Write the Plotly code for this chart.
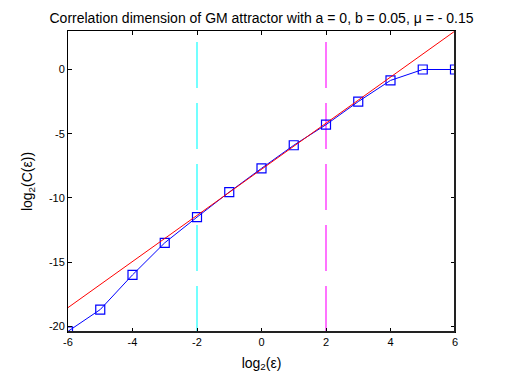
import plotly.graph_objects as go

# log2(epsilon) values and corresponding log2(C(epsilon))
log_eps = [-6, -5, -4, -3, -2, -1, 0, 1, 2, 3, 4, 5, 6]
log_c = [-20.4, -18.7, -16.0, -13.5, -11.5, -9.55, -7.7, -5.9, -4.3, -2.5, -0.85, 0.0, 0.0]

# linear fit over the scaling region
fit_x = [-6, 6]
fit_y = [-18.55, 3.0]

# scaling region boundaries
region_x = [-2, 2]
region_colors = ["#00ffff", "#ff00ff"]
region_y = [-20.45, 2.3]

x_ticks = [-6, -4, -2, 0, 2, 4, 6]
y_ticks = [-20, -15, -10, -5, 0]

fig = go.Figure()

for xv, col in zip(region_x, region_colors):
    fig.add_trace(go.Scatter(
        x=[xv, xv], y=region_y, mode="lines",
        line=dict(color=col, width=1.1, dash="46px,15px"),
        hoverinfo="skip", showlegend=False))

fig.add_trace(go.Scatter(
    x=log_eps, y=log_c, mode="lines+markers",
    line=dict(color="#0000ff", width=1),
    marker=dict(symbol="square-open", size=9, color="#0000ff", line=dict(width=1.2)),
    showlegend=False))

fig.add_trace(go.Scatter(
    x=fit_x, y=fit_y, mode="lines",
    line=dict(color="#ff0000", width=1),
    showlegend=False))

# heavier bottom and right frame edges
fig.add_shape(type="line", xref="paper", yref="paper", x0=0, x1=1, y0=0, y1=0,
              line=dict(color="#222222", width=2))
fig.add_shape(type="line", xref="paper", yref="paper", x0=1, x1=1, y0=0, y1=1,
              line=dict(color="#222222", width=2))

font_family = "Liberation Sans, Arial, sans-serif"

fig.update_layout(
    width=517, height=382,
    margin=dict(l=68, r=62, t=31, b=50),
    paper_bgcolor="white", plot_bgcolor="white",
    font=dict(family=font_family, color="black", size=11),
    title=dict(
        text="Correlation dimension of GM attractor with a = 0, b = 0.05, \u03bc = - 0.15",
        x=0.5, xref="paper", xanchor="center", y=0.953, yanchor="middle",
        font=dict(size=14, family=font_family)),
    xaxis=dict(
        range=[-6, 6], tickvals=x_ticks, ticktext=[str(v) for v in x_ticks],
        showgrid=False, zeroline=False, showline=True, linecolor="black", linewidth=1,
        mirror="ticks", ticks="inside", ticklen=4, tickcolor="black",
        tickfont=dict(size=11),
        title=dict(text="log<sub>2</sub>(\u03b5)", font=dict(size=14), standoff=10)),
    yaxis=dict(
        range=[-20.45, 3.0], tickvals=y_ticks, ticktext=[str(v) for v in y_ticks],
        showgrid=False, zeroline=False, showline=True, linecolor="black", linewidth=1,
        mirror="ticks", ticks="inside", ticklen=4, tickcolor="black",
        tickfont=dict(size=11),
        title=dict(text="log<sub>2</sub>(C(\u03b5))", font=dict(size=14), standoff=12)),
)

fig.write_html("out.html")
